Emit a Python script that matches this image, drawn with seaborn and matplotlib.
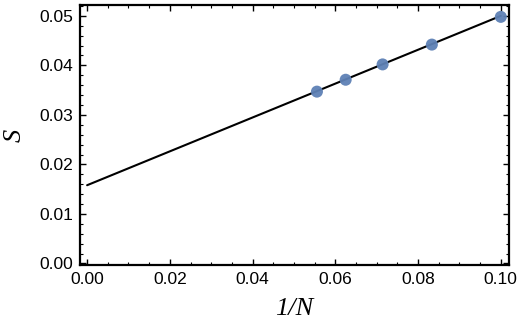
import numpy as np
import pandas as pd
import matplotlib
matplotlib.use("Agg")
import matplotlib.pyplot as plt
import seaborn as sns
from matplotlib.ticker import MultipleLocator

# data
inv_n = [1/18, 1/16, 1/14, 1/12, 1/10]
s_vals = [0.0347, 0.0371, 0.0402, 0.0442, 0.0498]
fit_x = [0.0, 0.1]
fit_intercept = 0.0158
fit_slope = 0.342

pts = pd.DataFrame({"x": inv_n, "S": s_vals})
line = pd.DataFrame({"x": fit_x, "S": [fit_intercept + fit_slope * v for v in fit_x]})

sns.set_theme(style="ticks")
plt.rcParams["font.family"] = ["Liberation Sans", "DejaVu Sans"]
plt.rcParams["text.color"] = "black"
plt.rcParams["xtick.color"] = "black"
plt.rcParams["ytick.color"] = "black"
plt.rcParams["axes.labelcolor"] = "black"

fig = plt.figure(figsize=(5.2, 3.32), dpi=100)
ax = fig.add_axes([0.154, 0.202, 0.825, 0.783])

sns.lineplot(data=line, x="x", y="S", color="black", lw=1.5, ax=ax)
sns.scatterplot(data=pts, x="x", y="S", color="#5E81B5", s=75, edgecolor="none",
                alpha=0.95, ax=ax, zorder=3)

ax.set_xlim(-0.0017, 0.102)
ax.set_ylim(-0.0003, 0.0522)
ax.xaxis.set_major_locator(MultipleLocator(0.02))
ax.xaxis.set_minor_locator(MultipleLocator(0.005))
ax.yaxis.set_major_locator(MultipleLocator(0.01))
ax.yaxis.set_minor_locator(MultipleLocator(0.002))
ax.xaxis.set_major_formatter(plt.FormatStrFormatter("%.2f"))
ax.yaxis.set_major_formatter(plt.FormatStrFormatter("%.2f"))

ax.tick_params(which="both", direction="in", top=True, right=True, color="black")
ax.tick_params(which="major", length=4, width=1, labelsize=12.5, pad=5)
ax.tick_params(which="minor", length=2, width=0.8)
for sp in ax.spines.values():
    sp.set_linewidth(1.6)
    sp.set_color("black")

ax.set_xlabel("1/N", family="Liberation Serif", style="italic", fontsize=19, labelpad=8)
ax.set_ylabel("S", family="Liberation Serif", style="italic", fontsize=19, labelpad=10)

fig.savefig("out.png", dpi=100)
